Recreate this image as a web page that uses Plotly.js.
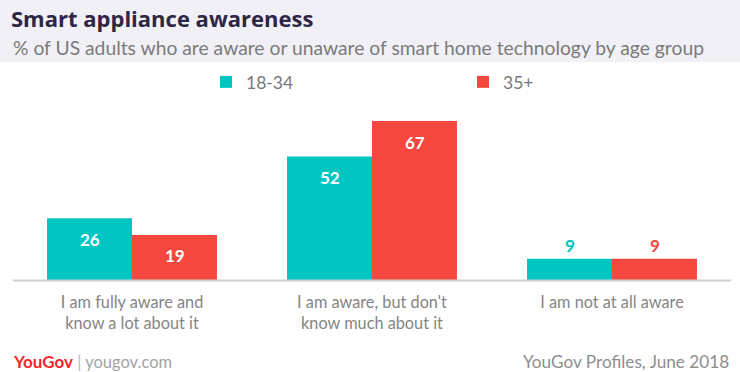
<!DOCTYPE html>
<html><head><meta charset="utf-8">
<script src="https://cdn.plot.ly/plotly-3.0.1.min.js"></script>
<style>html,body{margin:0;padding:0;background:#fff}#c{width:740px;height:372px}</style>
</head><body><div id="c"></div>
<script>
const categories = ["I am fully aware and<br>know a lot about it", "I am aware, but don't<br>know much about it", "I am not at all aware"];
const seriesNames = ["18-34", "35+"];
const young = [26, 52, 9];
const older = [19, 67, 9];
const colors = ["#00c6c2", "#f4483f"];
const labelColorsOutside = ["#00c6c2", "#f4483f"];

const W = 740, H = 372, L = 12, R = 8, T = 110, B = 92;
const pw = W - L - R, ph = H - T - B;
const px = x => (x - L) / pw;
const py = y => 1 - (y - T) / ph;

const traces = [young, older].map((vals, i) => ({
  type: 'bar', name: seriesNames[i], x: categories, y: vals,
  marker: {color: colors[i]}, hoverinfo: 'none'
}));

const annotations = [];
[young, older].forEach((vals, i) => {
  vals.forEach((v, j) => {
    const inside = v > 15;
    annotations.push({
      x: categories[j], y: v, xref: 'x', yref: 'y', text: String(v), showarrow: false,
      xshift: i === 0 ? -42.5 : 42.5, yshift: inside ? -21 : 13,
      font: {family: 'Lato, sans-serif', size: 17, color: inside ? '#ffffff' : labelColorsOutside[i], weight: 'bold'}
    });
  });
});
annotations.push({xref:'paper', yref:'paper', x: px(11), y: py(47), xanchor:'left', yanchor:'middle', showarrow:false,
  text:'% of US adults who are aware or unaware of smart home technology by age group',
  font:{family:'Lato, sans-serif', size:19.3, color:'#7b7b7b'}});
annotations.push({xref:'paper', yref:'paper', x: px(11), y: py(361), xanchor:'left', yanchor:'middle', showarrow:false,
  text:'<b><span style="color:#f0262c;font-size:17px">YouGov</span></b><span style="color:#b8b8b8"> | </span><span style="color:#a3a3a3">yougov.com</span>',
  font:{family:'Lato, sans-serif', size:16.5, color:'#a3a3a3'}});
annotations.push({xref:'paper', yref:'paper', x: px(731), y: py(361), xanchor:'right', yanchor:'middle', showarrow:false,
  text:'YouGov Profiles, June 2018',
  font:{family:'Lato, sans-serif', size:17.2, color:'#8e8e8e'}});

const layout = {
  width: W, height: H, margin: {l: L, r: R, t: T, b: B},
  paper_bgcolor: '#ffffff', plot_bgcolor: '#ffffff',
  title: {text: '<b>Smart appliance awareness</b>', x: 11 / W, xanchor: 'left', xref: 'container',
    y: 1 - 19 / H, yref: 'container', yanchor: 'middle',
    font: {family: '"Open Sans", sans-serif', size: 22, color: '#2d2645'}},
  barmode: 'group', bargap: 0.292, bargroupgap: 0,
  xaxis: {showgrid: false, zeroline: false, showline: false, ticks: '', ticklabelstandoff: 11,
    tickfont: {family: 'Lato, sans-serif', size: 16.3, color: '#858585'}, fixedrange: true},
  yaxis: {range: [0, ph / 2.373], showgrid: false, zeroline: false, showticklabels: false, fixedrange: true},
  showlegend: true,
  legend: {orientation: 'h', x: px(206), y: py(82), xanchor: 'left', yanchor: 'middle', entrywidth: 212, entrywidthmode: 'pixels',
    font: {family: 'Lato, sans-serif', size: 17.5, color: '#777777'}, bgcolor: 'rgba(0,0,0,0)'},
  shapes: [
    {type: 'rect', xref: 'paper', yref: 'paper', x0: px(0), x1: px(740), y0: py(0), y1: py(62), fillcolor: '#f1f0f6', line: {width: 0}, layer: 'below'},
    {type: 'line', xref: 'paper', yref: 'paper', x0: px(13), x1: px(731), y0: py(280.5), y1: py(280.5), line: {color: '#cfcfcf', width: 2}, layer: 'above'}
  ],
  annotations: annotations
};
Plotly.newPlot('c', traces, layout, {displayModeBar: false, staticPlot: true});
</script></body></html>
